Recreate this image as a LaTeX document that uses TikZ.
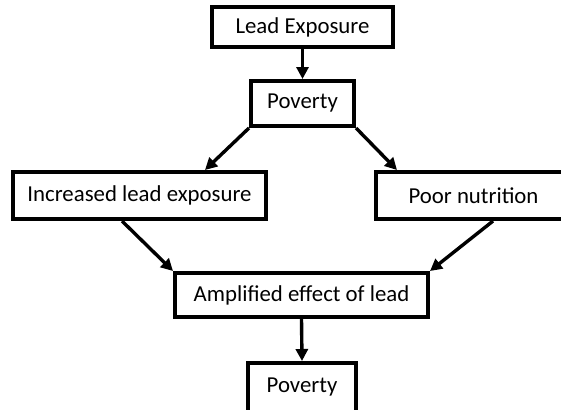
\documentclass[tikz,border=0pt]{standalone}
\usepackage{fontspec}
\setmainfont{Carlito}
\usepackage{tikz}
\usetikzlibrary{positioning,arrows.meta,shapes}

\begin{document}
\begin{tikzpicture}[
    x=0.5pt, y=-0.5pt,
    box/.style={rectangle, draw, line width=2pt, inner sep=0pt, font=\fontsize{11.4}{13}\selectfont},
    arr/.style={line width=1.7pt, -{Triangle[length=6pt,width=6pt]}}
]
\clip (0,0) rectangle (561,409);
\node[box, minimum width=90.5pt, minimum height=20pt] (lead) at (302.5,27) {Lead Exposure};
\node[box, minimum width=51.5pt, minimum height=22.5pt] (pov) at (302.5,103.5) {Poverty};
\node[box, minimum width=126.5pt, minimum height=23.5pt] (incr) at (139.5,195.5) {Increased lead exposure};
\node[box, minimum width=97.5pt, minimum height=23.5pt] (nutr) at (473.5,195.5) {Poor nutrition};
\node[box, minimum width=126.5pt, minimum height=22pt] (amp) at (301.5,295) {Amplified effect of lead};
\node[box, minimum width=54pt, minimum height=24.5pt] (pov2) at (302,387.5) {Poverty};

\draw[arr] (lead.south) -- (pov.north);
\draw[arr] (pov.south west) -- ([xshift=32.75pt]incr.north);
\draw[arr] (pov.south east) -- ([xshift=-38.25pt]nutr.north);
\draw[arr] ([xshift=-8.75pt]incr.south) -- (amp.north west);
\draw[arr] ([xshift=9.75pt]nutr.south) -- (amp.north east);
\draw[arr] (amp.south) -- (pov2.north);
\end{tikzpicture}
\end{document}
